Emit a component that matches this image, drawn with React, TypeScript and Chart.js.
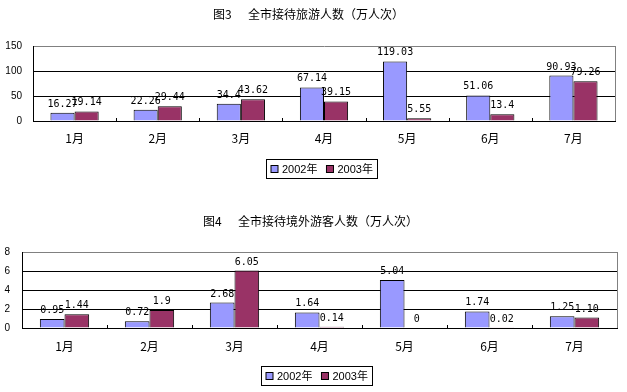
import React, { useEffect, useRef } from 'react';
import { Chart, registerables } from 'chart.js';

Chart.register(...registerables);

// ---------- data ----------
const months = ['1月', '2月', '3月', '4月', '5月', '6月', '7月'];
const seriesNames = ['2002年', '2003年'];
const tourists2002 = ['16.27', '22.26', '34.4', '67.14', '119.03', '51.06', '90.93'];
const tourists2003 = ['19.14', '29.44', '43.62', '39.15', '5.55', '13.4', '79.26'];
const overseas2002 = ['0.95', '0.72', '2.68', '1.64', '5.04', '1.74', '1.25'];
const overseas2003 = ['1.44', '1.9', '6.05', '0.14', '0', '0.02', '1.10'];
const touristTicks = [0, 50, 100, 150];
const overseasTicks = [0, 2, 4, 6, 8];
const seriesColors = ['#9999FF', '#993366'];

const CJK = '"Noto Sans CJK SC", sans-serif';
const SANS = '"Liberation Sans", "Noto Sans CJK SC", sans-serif';
const MONO = '"DejaVu Sans Mono", monospace';

// ---------- plugins ----------
const valueLabels = {
  id: 'valueLabels',
  afterDatasetsDraw(chart: any) {
    const ctx = chart.ctx;
    ctx.save();
    ctx.font = '10px ' + MONO;
    ctx.fillStyle = '#000';
    ctx.textAlign = 'center';
    ctx.textBaseline = 'alphabetic';
    chart.data.datasets.forEach((ds: any, i: number) => {
      const meta = chart.getDatasetMeta(i);
      meta.data.forEach((el: any, j: number) => {
        ctx.fillText(ds.valueText[j], el.x, el.y - 6);
      });
    });
    ctx.restore();
  },
};

const frame = {
  id: 'frame',
  beforeDatasetsDraw(chart: any) {
    const { ctx, chartArea } = chart;
    const xs = chart.scales.x;
    ctx.save();
    ctx.lineWidth = 1;
    ctx.strokeStyle = '#808080';
    ctx.beginPath();
    ctx.moveTo(chartArea.right + 0.5, chartArea.top);
    ctx.lineTo(chartArea.right + 0.5, chartArea.bottom);
    ctx.stroke();
    ctx.strokeStyle = '#000';
    ctx.beginPath();
    const n = xs.ticks.length;
    for (let i = 1; i < n; i++) {
      const x = Math.round((xs.getPixelForTick(i - 1) + xs.getPixelForTick(i)) / 2) + 0.5;
      ctx.moveTo(x, chartArea.bottom);
      ctx.lineTo(x, chartArea.bottom - 3);
    }
    ctx.stroke();
    ctx.restore();
  },
};

const decor = {
  id: 'decor',
  afterDraw(chart: any, _args: any, opts: any) {
    const { ctx, chartArea } = chart;
    ctx.save();
    // title
    ctx.fillStyle = '#000';
    ctx.font = '12px ' + CJK;
    ctx.textAlign = 'left';
    ctx.textBaseline = 'middle';
    ctx.fillText(opts.fig, opts.figX, opts.titleY);
    ctx.fillText(opts.title, opts.mainX, opts.titleY);
    // legend
    ctx.font = '11px ' + SANS;
    const names: string[] = opts.names;
    const sq = 8;
    const widths = names.map((t) => ctx.measureText(t).width);
    const total = 5 + widths.reduce((a, w) => a + sq + 3 + w, 0) + 9 * (names.length - 1) + 4;
    const cx = (chartArea.left + chartArea.right) / 2 - 3;
    const left = Math.round(cx - total / 2) + 0.5;
    const top = opts.legendTop + 0.5;
    const h = opts.legendH;
    ctx.strokeStyle = '#000';
    ctx.lineWidth = 1;
    ctx.strokeRect(left, top, Math.round(total), h);
    let x = left + 4.5;
    const midY = top + h / 2;
    names.forEach((t, i) => {
      const sy = Math.round(midY - sq / 2) + 0.5;
      ctx.fillStyle = opts.colors[i];
      ctx.fillRect(x, sy, sq - 1, sq - 1);
      ctx.strokeRect(x, sy, sq - 1, sq - 1);
      x += sq + 3;
      ctx.fillStyle = '#000';
      ctx.textBaseline = 'middle';
      ctx.fillText(t, x, midY + 0.5);
      x += widths[i] + 9;
    });
    ctx.restore();
  },
};

// ---------- panel ----------
type PanelCfg = {
  w: number; h: number; top: number;
  padTop: number; padRight: number; yWidth: number; xHeight: number;
  ticks: number[]; yPad: number; xPad: number;
  a: string[]; b: string[];
  fig: string; title: string; figX: number; mainX: number; titleY: number;
  legendTop: number; legendH: number;
};

function BarPanel({ cfg }: { cfg: PanelCfg }) {
  const ref = useRef<HTMLCanvasElement | null>(null);
  useEffect(() => {
    const max = cfg.ticks[cfg.ticks.length - 1];
    const chart = new Chart(ref.current as HTMLCanvasElement, {
      type: 'bar',
      data: {
        labels: months,
        datasets: [cfg.a, cfg.b].map((vals, i) => ({
          label: seriesNames[i],
          data: vals.map(Number),
          valueText: vals,
          backgroundColor: seriesColors[i],
          borderColor: '#000',
          borderWidth: 1,
          borderSkipped: 'bottom',
          categoryPercentage: 0.58,
          barPercentage: 1,
        })) as any,
      },
      options: {
        responsive: false,
        animation: false,
        devicePixelRatio: 1,
        layout: { padding: { top: cfg.padTop, right: cfg.padRight, left: 0, bottom: 0 } },
        plugins: {
          legend: { display: false },
          title: { display: false },
          tooltip: { enabled: false },
          decor: {
            fig: cfg.fig, title: cfg.title, figX: cfg.figX, mainX: cfg.mainX, titleY: cfg.titleY,
            legendTop: cfg.legendTop, legendH: cfg.legendH, names: seriesNames, colors: seriesColors,
          },
        } as any,
        scales: {
          x: {
            grid: { display: false, drawTicks: false },
            border: { display: true, color: '#000', width: 1 },
            ticks: { color: '#000', font: { family: CJK, size: 12 }, padding: cfg.xPad, maxRotation: 0 },
            afterFit: (s: any) => { s.height = cfg.xHeight; },
          },
          y: {
            min: 0,
            max,
            grid: {
              drawTicks: false,
              color: (c: any) => (c.tick && c.tick.value === max ? '#808080' : '#000'),
              lineWidth: 1,
            },
            border: { display: true, color: '#000', width: 1 },
            ticks: { color: '#000', font: { family: SANS, size: 10 }, padding: cfg.yPad },
            afterBuildTicks: (s: any) => { s.ticks = cfg.ticks.map((v) => ({ value: v })); },
            afterFit: (s: any) => { s.width = cfg.yWidth; },
          },
        },
      },
      plugins: [frame, valueLabels, decor],
    });
    return () => chart.destroy();
  }, []);
  return (
    <canvas
      ref={ref}
      width={cfg.w}
      height={cfg.h}
      style={{ display: 'block', position: 'absolute', left: 0, top: cfg.top }}
    />
  );
}

const panel1: PanelCfg = {
  w: 627, h: 200, top: 0,
  padTop: 46, padRight: 12, yWidth: 33, xHeight: 79,
  ticks: touristTicks, yPad: 11, xPad: 10,
  a: tourists2002, b: tourists2003,
  fig: '图3', title: '全市接待旅游人数（万人次）', figX: 213, mainX: 248, titleY: 14,
  legendTop: 159, legendH: 19,
};

const panel2: PanelCfg = {
  w: 627, h: 192, top: 200,
  padTop: 52, padRight: 10, yWidth: 22, xHeight: 64,
  ticks: overseasTicks, yPad: 12, xPad: 11,
  a: overseas2002, b: overseas2003,
  fig: '图4', title: '全市接待境外游客人数（万人次）', figX: 203, mainX: 238, titleY: 21,
  legendTop: 166, legendH: 19,
};

export default function App() {
  return (
    <div style={{ position: 'absolute', left: 0, top: 0, width: 627, height: 392, background: '#fff' }}>
      <BarPanel cfg={panel1} />
      <BarPanel cfg={panel2} />
    </div>
  );
}
